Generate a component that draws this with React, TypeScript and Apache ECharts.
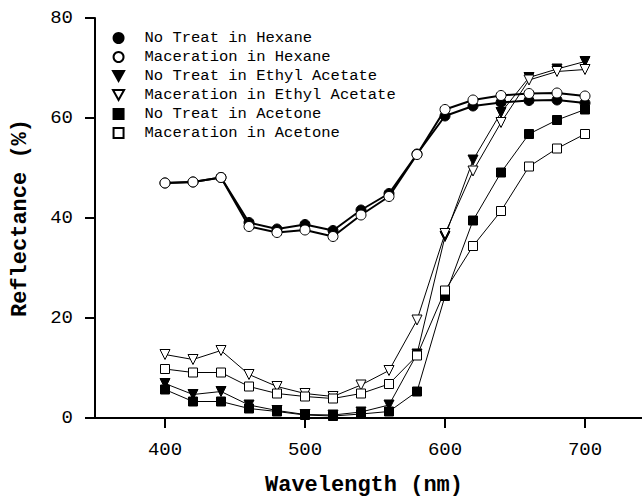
import React, { useEffect, useRef } from "react";
import * as echarts from "echarts";

const wavelengths = [400, 420, 440, 460, 480, 500, 520, 540, 560, 580, 600, 620, 640, 660, 680, 700];

const noTreatHexane = [47.0, 47.2, 48.1, 39.1, 37.8, 38.7, 37.5, 41.6, 44.9, 52.8, 60.4, 62.4, 63.1, 63.5, 63.6, 63.0];
const macerationHexane = [47.0, 47.2, 48.1, 38.3, 37.1, 37.6, 36.3, 40.6, 44.3, 52.7, 61.7, 63.6, 64.5, 64.9, 65.0, 64.4];
const noTreatEthyl = [6.9, 4.7, 5.3, 2.6, 1.5, 0.7, 0.6, 1.2, 2.6, 12.8, 36.3, 51.6, 61.1, 68.1, 69.8, 71.3];
const macerationEthyl = [12.7, 11.7, 13.5, 8.7, 6.3, 4.9, 4.3, 6.6, 9.5, 19.6, 36.9, 49.4, 59.1, 67.6, 69.3, 69.7];
const noTreatAcetone = [5.7, 3.3, 3.3, 1.9, 1.3, 0.6, 0.4, 0.8, 1.3, 5.3, 24.4, 39.5, 49.1, 56.8, 59.6, 61.7];
const macerationAcetone = [9.8, 9.1, 9.1, 6.3, 4.9, 4.3, 3.9, 4.9, 6.8, 12.5, 25.5, 34.4, 41.4, 50.3, 53.9, 56.8];

const xTicks = [400, 500, 600, 700];

const seriesNames = [
  "No Treat in Hexane",
  "Maceration in Hexane",
  "No Treat in Ethyl Acetate",
  "Maceration in Ethyl Acetate",
  "No Treat in Acetone",
  "Maceration in Acetone",
];

const FONT = "Liberation Mono";
const DOWN_TRI = "path://M0,0 L10,0 L5,9 Z";
const SQUARE = "path://M0,0 L10,0 L10,10 L0,10 Z";

export default function App() {
  const ref = useRef<HTMLDivElement>(null);

  useEffect(() => {
    if (!ref.current) return;
    const chart = echarts.init(ref.current, null, { renderer: "svg" });

    const pairs = (vals: number[]) => wavelengths.map((w, i) => [w, vals[i]]);

    const defs = [
      { data: noTreatHexane, symbol: "circle", size: 10, fill: "#000", lw: 2 },
      { data: macerationHexane, symbol: "circle", size: 10, fill: "#fff", lw: 2 },
      { data: noTreatEthyl, symbol: DOWN_TRI, size: 10, fill: "#000", lw: 1 },
      { data: macerationEthyl, symbol: DOWN_TRI, size: 10, fill: "#fff", lw: 1 },
      { data: noTreatAcetone, symbol: SQUARE, size: 9, fill: "#000", lw: 1 },
      { data: macerationAcetone, symbol: SQUARE, size: 9, fill: "#fff", lw: 1 },
    ];

    const legendIcons = ["circle", "circle", DOWN_TRI, DOWN_TRI, SQUARE, SQUARE];

    chart.setOption({
      animation: false,
      backgroundColor: "#fff",
      grid: {
        left: 95,
        top: 18,
        width: 560,
        height: 400,
        containLabel: false,
        outerBoundsMode: "none",
      },
      legend: {
        orient: "vertical",
        left: 112,
        top: 30,
        padding: 0,
        itemWidth: 42,
        itemHeight: 10,
        itemGap: 3,
        selectedMode: false,
        textStyle: { fontFamily: FONT, fontSize: 15.5, color: "#000", lineHeight: 16 },
        data: seriesNames.map((n, i) => ({ name: n, icon: legendIcons[i] })),
      },
      xAxis: {
        type: "value",
        min: 350,
        max: 750,
        name: "Wavelength (nm)",
        nameLocation: "middle",
        nameGap: 56,
        nameTextStyle: {
          fontFamily: FONT,
          fontSize: 22,
          fontWeight: "bold",
          color: "#000",
          padding: [0, 22, 0, 0],
        },
        splitLine: { show: false },
        axisLine: { onZero: false, lineStyle: { color: "#000", width: 2 } },
        axisTick: {
          show: true,
          inside: false,
          length: 10,
          customValues: xTicks,
          lineStyle: { color: "#000", width: 2 },
        },
        axisLabel: {
          customValues: xTicks,
          margin: 22,
          fontFamily: FONT,
          fontSize: 19,
          color: "#000",
        },
      },
      yAxis: {
        type: "value",
        min: 0,
        max: 80,
        interval: 20,
        name: "Reflectance (%)",
        nameLocation: "middle",
        nameGap: 64,
        nameTextStyle: { fontFamily: FONT, fontSize: 22, fontWeight: "bold", color: "#000" },
        splitLine: { show: false },
        axisLine: { show: true, onZero: false, lineStyle: { color: "#000", width: 2 } },
        axisTick: { show: true, inside: false, length: 10, lineStyle: { color: "#000", width: 2 } },
        axisLabel: { margin: 22, fontFamily: FONT, fontSize: 19, color: "#000" },
      },
      series: defs.map((d, i) => ({
        name: seriesNames[i],
        type: "line",
        data: pairs(d.data),
        symbol: d.symbol,
        symbolSize: d.size,
        showSymbol: true,
        lineStyle: { color: "#000", width: d.lw },
        itemStyle: { color: d.fill, borderColor: "#000", borderWidth: 1 },
        emphasis: { disabled: true },
        z: 2 + i,
      })),
    });

    return () => chart.dispose();
  }, []);

  return (
    <div
      ref={ref}
      style={{ position: "fixed", left: 0, top: 0, width: 642, height: 500, background: "#fff" }}
    />
  );
}
